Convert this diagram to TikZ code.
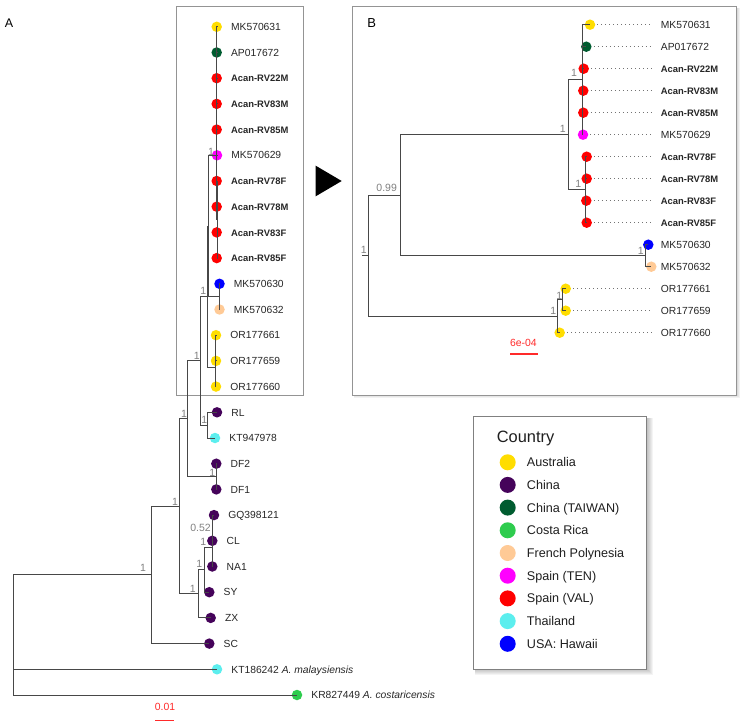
\documentclass[tikz,border=0pt]{standalone}
\usepackage{fontspec}
\setmainfont{Liberation Sans}
\usetikzlibrary{calc}
\definecolor{cAus}{HTML}{FFDD00}
\definecolor{cChi}{HTML}{45035A}
\definecolor{cTai}{HTML}{005C30}
\definecolor{cCos}{HTML}{2ECC4E}
\definecolor{cFre}{HTML}{FFCA96}
\definecolor{cTen}{HTML}{FF00FF}
\definecolor{cVal}{HTML}{FF0000}
\definecolor{cTha}{HTML}{5CEEEE}
\definecolor{cUsa}{HTML}{0000FF}
\definecolor{cScale}{HTML}{FF2A2A}
\newcommand{\bl}[1]{{\fontsize{9.4}{11}\selectfont\bfseries #1}}
\begin{document}
\begin{tikzpicture}[x=1pt,y=-1pt,
 br/.style={draw=black!72, line width=0.9pt},
 tip/.style={circle, inner sep=0pt, minimum size=10.5pt, draw=none},
 lab/.style={anchor=base west, inner sep=0pt, font=\fontsize{10.3}{12}\selectfont, text=black!85},
 sup/.style={inner sep=0pt, font=\fontsize{10.5}{12}\selectfont, text=black!50},
 lead/.style={draw=black!55, line width=0.8pt, dash pattern=on 0.9pt off 3.1pt},
 panel/.style={draw=black!42, line width=0.9pt},
 scalebar/.style={draw=cScale, line width=1.1pt},
 scaletext/.style={inner sep=0pt, font=\fontsize{10.4}{12}\selectfont, text=cScale},
 legtext/.style={anchor=base west, inner sep=0pt, font=\fontsize{12.6}{14}\selectfont, text=black!88},
 legdot/.style={circle, inner sep=0pt, minimum size=16pt, draw=none},
]
\useasboundingbox (0,0) rectangle (745,722);

% ---------- panel frames ----------
\coordinate (PA1) at (176,6);
\coordinate (PA2) at (303.3,395);
\draw[panel] (PA1) rectangle (PA2);
\coordinate (PB1) at (352.7,6.7);
\coordinate (PB2) at (736.7,395);
\foreach \k in {1,2,3} {\fill[black, opacity=0.05] ($(PB1)+(1.5,1.5)$) rectangle ($(PB2)+(\k,\k)$);}
\fill[white] (PB1) rectangle (PB2);
\draw[panel] (PB1) rectangle (PB2);

\node[inner sep=0pt, font=\fontsize{12.5}{14}\selectfont] (labA) at (9,23.5) {A};
\node[inner sep=0pt, font=\fontsize{13}{15}\selectfont] (labB) at (371.7,22.7) {B};

% arrow triangle
\coordinate (T1) at (315.7,165.7);
\coordinate (T2) at (315.7,196.3);
\coordinate (T3) at (341.7,181);
\fill[black] (T1) -- (T2) -- (T3) -- cycle;

% ---------- Panel A leaves ----------
\foreach \i/\x/\y/\c/\t in {
1/216.7/26.8/cAus/MK570631,
2/216.7/52.5/cTai/AP017672,
3/216.7/78.2/cVal/\bl{Acan-RV22M},
4/216.7/103.9/cVal/\bl{Acan-RV83M},
5/216.7/129.6/cVal/\bl{Acan-RV85M},
6/217/155.3/cTen/MK570629,
7/216.7/181.0/cVal/\bl{Acan-RV78F},
8/216.7/206.7/cVal/\bl{Acan-RV78M},
9/216.7/232.4/cVal/\bl{Acan-RV83F},
10/216.7/258.1/cVal/\bl{Acan-RV85F},
11/219.5/283.8/cUsa/MK570630,
12/219.5/309.5/cFre/MK570632,
13/216/335.2/cAus/OR177661,
14/216/360.9/cAus/OR177659,
15/216/386.6/cAus/OR177660,
16/217/412.3/cChi/RL,
17/215/438.0/cTha/KT947978,
18/216.3/463.7/cChi/DF2,
19/216.3/489.4/cChi/DF1,
20/214/515.1/cChi/GQ398121,
21/212.3/540.8/cChi/CL,
22/212.3/566.5/cChi/NA1,
23/209.3/592.2/cChi/SY,
24/210.7/617.9/cChi/ZX,
25/209.3/643.6/cChi/SC,
26/217/669.3/cTha/{KT186242 \textit{A. malaysiensis}},
27/297/695.0/cCos/{KR827449 \textit{A. costaricensis}}}
{\node[tip, fill=\c] (a\i) at (\x,\y) {};
 \node[lab] (ta\i) at (\x+14.2,\y+3.7) {\t};}

% ---------- Panel A internal nodes ----------
\coordinate (AnA) at (216.5,91.05);
\coordinate (AnB) at (217,219.55);
\coordinate (Asp) at (216.5,155.3);
\coordinate (Amk) at (219.3,296.65);
\coordinate (AX) at (208.5,225.98);
\coordinate (Aor) at (215.5,348.05);
\coordinate (AY) at (215.3,367.33);
\coordinate (Abox) at (207,296.65);
\coordinate (Ark) at (207.3,425.15);
\coordinate (AQ) at (200.7,360.9);
\coordinate (Adf) at (216,476.55);
\coordinate (AP) at (187.3,418.73);
\coordinate (Agc) at (212,527.95);
\coordinate (AC) at (212,547.23);
\coordinate (AD) at (204.3,569.7);
\coordinate (AE) at (198,593.8);
\coordinate (AR2) at (179,506.27);
\coordinate (AR1) at (151,574.93);
\coordinate (Aroot) at (13.7,634);

\foreach \k in {1,...,6} {\draw[br] (AnA) |- (a\k.center);}
\foreach \k in {7,...,10} {\draw[br] (AnB) |- (a\k.center);}
\draw[br] (Asp) |- (AnA);
\draw[br] (Asp) |- (AnB);
\draw[br] (Amk) |- (a11.center);
\draw[br] (Amk) |- (a12.center);
\draw[br] (AX) |- (Asp);
\draw[br] (AX) |- (Amk);
\draw[br] (Aor) |- (a13.center);
\draw[br] (Aor) |- (a14.center);
\draw[br] (AY) |- (Aor);
\draw[br] (AY) |- (a15.center);
\draw[br] (Abox) |- (AX);
\draw[br] (Abox) |- (AY);
\draw[br] (Ark) |- (a16.center);
\draw[br] (Ark) |- (a17.center);
\draw[br] (AQ) |- (Abox);
\draw[br] (AQ) |- (Ark);
\draw[br] (Adf) |- (a18.center);
\draw[br] (Adf) |- (a19.center);
\draw[br] (AP) |- (AQ);
\draw[br] (AP) |- (Adf);
\draw[br] (Agc) |- (a20.center);
\draw[br] (Agc) |- (a21.center);
\draw[br] (AC) |- (Agc);
\draw[br] (AC) |- (a22.center);
\draw[br] (AD) |- (AC);
\draw[br] (AD) |- (a23.center);
\draw[br] (AE) |- (AD);
\draw[br] (AE) |- (a24.center);
\draw[br] (AR2) |- (AP);
\draw[br] (AR2) |- (AE);
\draw[br] (AR1) |- (AR2);
\draw[br] (AR1) |- (a25.center);
\draw[br] (Aroot) |- (AR1);
\draw[br] (Aroot) |- (a26.center);
\draw[br] (Aroot) |- (a27.center);

% support values A
\node[sup] (sA1) at (211,151.7) {1};
\node[sup] (sA2) at (203.3,290.7) {1};
\node[sup] (sA3) at (196.7,356) {1};
\node[sup] (sA4) at (184,414) {1};
\node[sup] (sA5) at (204.3,420) {1};
\node[sup] (sA6) at (212.3,472.7) {1};
\node[sup] (sA7) at (175,502) {1};
\node[sup] (sA8) at (200.5,527.5) {0.52};
\node[sup] (sA9) at (203.3,541.7) {1};
\node[sup] (sA10) at (199.3,564) {1};
\node[sup] (sA11) at (192.7,588.5) {1};
\node[sup] (sA12) at (143,568) {1};

% scale bar A
\node[scaletext] (scA) at (165,706.7) {0.01};
\coordinate (scA1) at (155.3,720.3);
\coordinate (scA2) at (174.3,720.3);
\draw[scalebar] (scA1) -- (scA2);

% ---------- Panel B leaves ----------
\foreach \i/\x/\y/\c/\t in {
1/590/24.7/cAus/MK570631,
2/586.3/46.7/cTai/AP017672,
3/583.7/68.7/cVal/\bl{Acan-RV22M},
4/583.3/90.7/cVal/\bl{Acan-RV83M},
5/583.3/112.7/cVal/\bl{Acan-RV85M},
6/583/134.7/cTen/MK570629,
7/586.7/156.7/cVal/\bl{Acan-RV78F},
8/586.7/178.7/cVal/\bl{Acan-RV78M},
9/586.3/200.7/cVal/\bl{Acan-RV83F},
10/586.7/222.7/cVal/\bl{Acan-RV85F},
11/648.3/244.7/cUsa/MK570630,
12/651.3/266.7/cFre/MK570632,
13/565.7/288.7/cAus/OR177661,
14/565.7/310.7/cAus/OR177659,
15/559.7/332.7/cAus/OR177660}
{\node[tip, fill=\c] (b\i) at (\x,\y) {};
 \node[lab] (tb\i) at (660.7,\y+3.7) {\t};}

\coordinate (Blead) at (652,0);
\foreach \k in {1,...,10,13,14,15} {\draw[lead] (b\k.east) ++(2,0) -- (b\k.center -| Blead);}

\coordinate (BnA) at (582,79.7);
\coordinate (BnB) at (585,189.7);
\coordinate (Bsp) at (568.3,134.7);
\coordinate (Bmk) at (645.7,255.7);
\coordinate (B099) at (400,195.2);
\coordinate (Bor) at (562.7,299.7);
\coordinate (BY) at (557.3,316.2);
\coordinate (Broot) at (368.3,255.7);
\coordinate (Bstub) at (362,255.7);

\foreach \k in {1,...,6} {\draw[br] (BnA) |- (b\k.center);}
\foreach \k in {7,...,10} {\draw[br] (BnB) |- (b\k.center);}
\draw[br] (Bsp) |- (BnA);
\draw[br] (Bsp) |- (BnB);
\draw[br] (Bmk) |- (b11.center);
\draw[br] (Bmk) |- (b12.center);
\draw[br] (B099) |- (Bsp);
\draw[br] (B099) |- (Bmk);
\draw[br] (Bor) |- (b13.center);
\draw[br] (Bor) |- (b14.center);
\draw[br] (BY) |- (Bor);
\draw[br] (BY) |- (b15.center);
\draw[br] (Broot) |- (B099);
\draw[br] (Broot) |- (BY);
\draw[br] (Bstub) -- (Broot);

% support values B
\node[sup] (sB1) at (574,73.3) {1};
\node[sup] (sB2) at (562.7,129.3) {1};
\node[sup] (sB3) at (386.7,188.3) {0.99};
\node[sup] (sB4) at (578.3,184.3) {1};
\node[sup] (sB5) at (363.7,250.3) {1};
\node[sup] (sB6) at (640.7,250.5) {1};
\node[sup] (sB7) at (559.3,295.7) {1};
\node[sup] (sB8) at (553.3,311) {1};

% scale bar B
\node[scaletext] (scB) at (523.3,342.7) {6e-04};
\coordinate (scB1) at (510,354);
\coordinate (scB2) at (537.7,354);
\draw[scalebar] (scB1) -- (scB2);

% ---------- legend ----------
\coordinate (L1) at (473.3,416);
\coordinate (L2) at (646.7,669);
\foreach \k in {1,...,6} {\fill[black, opacity=0.045] ($(L1)+(2,2)$) rectangle ($(L2)+(\k,\k)$);}
\fill[white] (L1) rectangle (L2);
\draw[draw=black!50, line width=0.8pt] (L1) rectangle (L2);
\node[anchor=base west, inner sep=0pt, font=\fontsize{16.4}{18}\selectfont, text=black!88] (legT) at (496.7,442.5) {Country};
\foreach \j/\y/\c/\t in {
1/462.3/cAus/Australia,
2/484.9/cChi/China,
3/507.6/cTai/China (TAIWAN),
4/530.3/cCos/Costa Rica,
5/553.0/cFre/French Polynesia,
6/575.7/cTen/Spain (TEN),
7/598.4/cVal/Spain (VAL),
8/621.1/cTha/Thailand,
9/643.8/cUsa/USA: Hawaii}
{\node[legdot, fill=\c] (ld\j) at (507.7,\y) {};
 \node[legtext] (lt\j) at (526.7,\y+4.5) {\t};}
\end{tikzpicture}
\end{document}
